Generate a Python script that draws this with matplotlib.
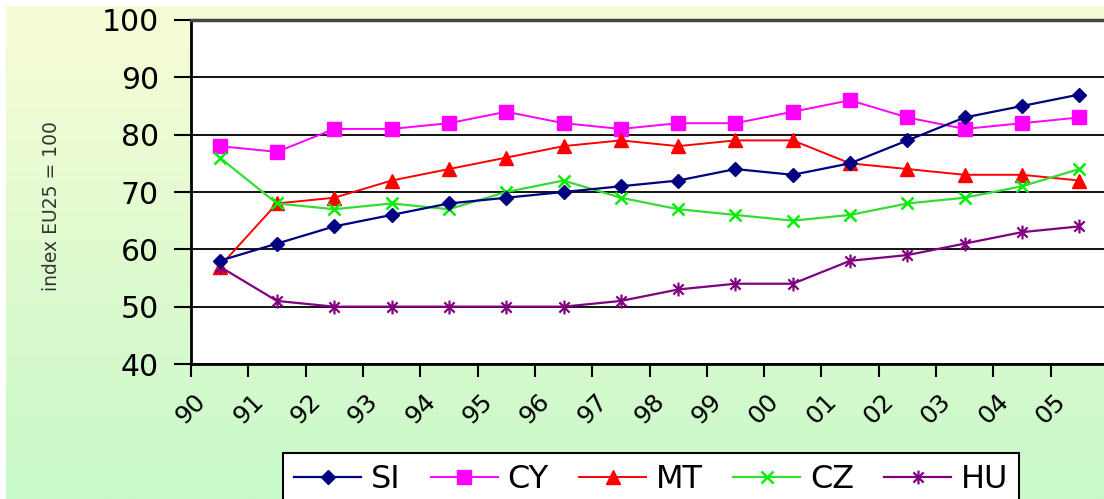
import numpy as np
import matplotlib
matplotlib.use("Agg")
import matplotlib.pyplot as plt
from matplotlib.path import Path
from matplotlib.transforms import ScaledTranslation

years = ["90", "91", "92", "93", "94", "95", "96", "97", "98", "99",
         "00", "01", "02", "03", "04", "05"]
SI = [58, 61, 64, 66, 68, 69, 70, 71, 72, 74, 73, 75, 79, 83, 85, 87]
CY = [78, 77, 81, 81, 82, 84, 82, 81, 82, 82, 84, 86, 83, 81, 82, 83]
MT = [57, 68, 69, 72, 74, 76, 78, 79, 78, 79, 79, 75, 74, 73, 73, 72]
CZ = [76, 68, 67, 68, 67, 70, 72, 69, 67, 66, 65, 66, 68, 69, 71, 74]
HU = [57, 51, 50, 50, 50, 50, 50, 51, 53, 54, 54, 58, 59, 61, 63, 64]
ylabel = "index EU25 = 100"

W, H, DPI = 1104, 499, 100
fig = plt.figure(figsize=(W / DPI, H / DPI), dpi=DPI)
fig.patch.set_facecolor("white")

# gradient background
bg = fig.add_axes([6 / W, 0, 1 - 6 / W, (H - 6) / H], zorder=-10)
top = np.array([248, 252, 214]) / 255
bot = np.array([200, 249, 202]) / 255
t = np.linspace(0, 1, 256)[:, None]
grad = (top[None, :] * (1 - t) + bot[None, :] * t)[:, None, :]
bg.imshow(grad, aspect="auto", extent=[0, 1, 0, 1])
bg.axis("off")

ax = fig.add_axes([191 / W, (H - 364) / H, (1108 - 191) / W, (364 - 20) / H])
ax.set_facecolor("white")

x = np.arange(len(years)) + 0.5

star = Path([(-1, -1), (1, 1), (-1, 1), (1, -1), (0, -1.35), (0, 1.35)],
            [Path.MOVETO, Path.LINETO, Path.MOVETO, Path.LINETO, Path.MOVETO, Path.LINETO])

ax.plot(x, SI, color="#000080", lw=1.6, marker="D", ms=7, mfc="#000080", mec="#000080", label="SI", zorder=5)
ax.plot(x, CY, color="#FF00FF", lw=1.4, marker="s", ms=10, mfc="#FF00FF", mec="#FF00FF", label="CY", zorder=4)
ax.plot(x, MT, color="#FF0000", lw=1.4, marker="^", ms=10, mfc="#FF0000", mec="#FF0000", label="MT", zorder=4)
ax.plot(x, CZ, color="#33DD33", lw=1.6, marker="x", ms=8, mew=1.8, mec="#00EE00", label="CZ", zorder=4)
ax.plot(x, HU, color="#800080", lw=1.6, marker=star, ms=10, mew=1.6, mec="#800080", mfc="none", label="HU", zorder=4)

ax.set_xlim(0, len(years))
ax.set_ylim(40, 100)
ax.set_yticks(np.arange(40, 101, 10))
ax.yaxis.grid(True, color="black", lw=1.3)
ax.set_axisbelow(True)

ax.set_xticks(np.arange(len(years)))
ax.set_xticklabels(years, rotation=45, ha="center", va="center", fontsize=18)
off = ScaledTranslation(-7 / DPI, 0, fig.dpi_scale_trans)
for lab in ax.get_xticklabels():
    lab.set_transform(lab.get_transform() + off)
ax.tick_params(axis="x", direction="out", length=9, width=1.5, pad=23, color="black")
ax.tick_params(axis="y", direction="out", length=12, width=1.5, pad=11, labelsize=21.5, color="black")

for side in ["left", "bottom"]:
    ax.spines[side].set_linewidth(2)
    ax.spines[side].set_color("black")
ax.spines["top"].set_linewidth(2.5)
ax.spines["top"].set_color("#444444")
ax.spines["right"].set_visible(False)

fig.text(52 / W, 1 - 206 / H, ylabel, rotation=90, ha="center", va="center",
         fontsize=13.5, color="#333333")

leg = fig.legend(loc="upper left", bbox_to_anchor=(283 / W, 1 - 453 / H),
                 ncol=5, fontsize=23, frameon=True, fancybox=False,
                 handlelength=2.1, handletextpad=0.3, columnspacing=0.95,
                 borderpad=0.35, borderaxespad=0)
leg.get_frame().set_edgecolor("black")
leg.get_frame().set_linewidth(1.5)
leg.get_frame().set_facecolor("white")
leg.get_frame().set_alpha(1)

fig.savefig("out.png", dpi=DPI)
